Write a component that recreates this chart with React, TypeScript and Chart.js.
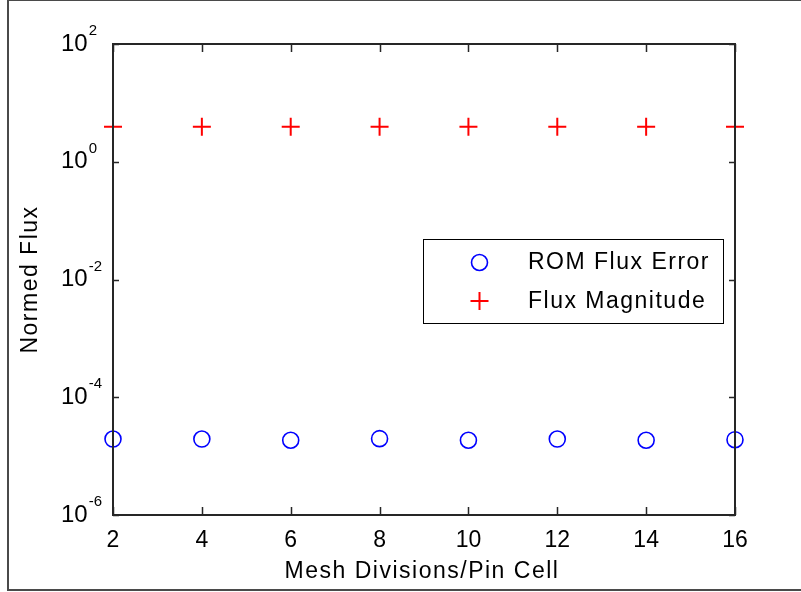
import React, { useEffect, useRef } from "react";
import { Chart, registerables } from "chart.js";

Chart.register(...registerables);

// ---- data ----
const meshDivisions = [2, 4, 6, 8, 10, 12, 14, 16];
const romFluxError = [1.95e-5, 1.95e-5, 1.86e-5, 1.98e-5, 1.86e-5, 1.95e-5, 1.86e-5, 1.9e-5];
const fluxMagnitude = [3.94, 3.94, 3.94, 3.94, 3.94, 3.94, 3.94, 3.94];
const xTickValues = [2, 4, 6, 8, 10, 12, 14, 16];
const yTickExponents = [2, 0, -2, -4, -6];
const seriesLabels = ["ROM Flux Error", "Flux Magnitude"];
const xTitle = "Mesh Divisions/Pin Cell";
const yTitle = "Normed Flux";

const FONT = '"Liberation Sans", Arial, Helvetica, sans-serif';
const BLUE = "#0000ff";
const RED = "#ff0000";
const AXIS = "#262626";

const matlabPlugin = {
  id: "matlabLook",
  afterDatasetsDraw(chart: any) {
    const { ctx, chartArea: a, scales } = chart;
    const xs = scales.x;
    const ys = scales.y;
    ctx.save();
    // axes box
    ctx.strokeStyle = AXIS;
    ctx.lineWidth = 2;
    ctx.strokeRect(a.left, a.top, a.right - a.left, a.bottom - a.top);
    // inward ticks
    ctx.lineWidth = 1.5;
    ctx.beginPath();
    for (const t of xTickValues) {
      const px = Math.round(xs.getPixelForValue(t)) + 0.5;
      ctx.moveTo(px, a.bottom);
      ctx.lineTo(px, a.bottom - 8);
      ctx.moveTo(px, a.top);
      ctx.lineTo(px, a.top + 8);
    }
    for (const e of yTickExponents) {
      const py = Math.round(ys.getPixelForValue(Math.pow(10, e))) + 0.5;
      ctx.moveTo(a.left, py);
      ctx.lineTo(a.left + 6, py);
      ctx.moveTo(a.right, py);
      ctx.lineTo(a.right - 6, py);
    }
    ctx.stroke();
    // y tick labels with superscript exponents
    ctx.fillStyle = "#000";
    for (const e of yTickExponents) {
      const py = ys.getPixelForValue(Math.pow(10, e));
      ctx.font = `24px ${FONT}`;
      ctx.textAlign = "left";
      ctx.textBaseline = "middle";
      const bx = 61;
      ctx.fillText("10", bx, py);
      const w = ctx.measureText("10").width;
      ctx.font = `15px ${FONT}`;
      ctx.textBaseline = "alphabetic";
      ctx.fillText(String(e), bx + w + 1, py - 9);
    }
    ctx.restore();
  },
  afterDraw(chart: any) {
    const { ctx, chartArea: a } = chart;
    ctx.save();
    ctx.fillStyle = "#000";
    (ctx as any).letterSpacing = "1.5px";
    ctx.font = `23px ${FONT}`;
    ctx.textAlign = "center";
    ctx.textBaseline = "middle";
    // x title
    ctx.fillText(xTitle, (a.left + a.right) / 2 - 2, 572);
    // y title
    ctx.save();
    ctx.translate(31, (a.top + a.bottom) / 2);
    ctx.rotate(-Math.PI / 2);
    ctx.fillText(yTitle, 0, 0);
    ctx.restore();

    // legend
    const lx = 423, ly = 239, lw = 300, lh = 84;
    ctx.fillStyle = "#fff";
    ctx.fillRect(lx, ly, lw, lh);
    ctx.strokeStyle = "#000";
    ctx.lineWidth = 1;
    ctx.strokeRect(lx + 0.5, ly + 0.5, lw, lh);
    const ds = chart.data.datasets;
    const rows = [262.5, 301];
    ctx.textAlign = "left";
    ctx.fillStyle = "#000";
    ds.forEach((d: any, i: number) => {
      const cy = rows[i];
      const cx = 479.5;
      ctx.strokeStyle = d.pointBorderColor;
      ctx.lineWidth = d.pointBorderWidth;
      ctx.beginPath();
      if (d.pointStyle === "circle") {
        ctx.arc(cx, cy, d.pointRadius, 0, Math.PI * 2);
      } else {
        ctx.moveTo(cx - d.pointRadius, cy);
        ctx.lineTo(cx + d.pointRadius, cy);
        ctx.moveTo(cx, cy - d.pointRadius);
        ctx.lineTo(cx, cy + d.pointRadius);
      }
      ctx.stroke();
      ctx.fillStyle = "#000";
      ctx.fillText(d.label, 528, cy + 0.5);
    });
    (ctx as any).letterSpacing = "0px";

    // outer figure frame
    ctx.fillStyle = "#4a4a4a";
    ctx.fillRect(7, 0, 2, 591);
    ctx.fillRect(7, 0, 801, 1);
    ctx.fillRect(7, 589, 801, 2);
    ctx.restore();
  },
};

export default function App() {
  const ref = useRef<HTMLCanvasElement | null>(null);
  useEffect(() => {
    if (!ref.current) return;
    const chart = new Chart(ref.current, {
      type: "scatter",
      data: {
        datasets: [
          {
            label: seriesLabels[0],
            data: meshDivisions.map((x, i) => ({ x, y: romFluxError[i] })),
            showLine: false,
            pointStyle: "circle",
            pointRadius: 8,
            pointBorderWidth: 1.6,
            pointBorderColor: BLUE,
            pointBackgroundColor: "rgba(0,0,0,0)",
            clip: false,
          } as any,
          {
            label: seriesLabels[1],
            data: meshDivisions.map((x, i) => ({ x, y: fluxMagnitude[i] })),
            showLine: false,
            pointStyle: "cross",
            pointRadius: 9,
            pointBorderWidth: 2,
            pointBorderColor: RED,
            pointBackgroundColor: RED,
            clip: false,
          } as any,
        ],
      },
      options: {
        responsive: false,
        animation: false,
        devicePixelRatio: 1,
        events: [],
        layout: { padding: { left: 113, right: 66, top: 44, bottom: 27 } },
        plugins: {
          legend: { display: false },
          tooltip: { enabled: false },
          title: { display: false },
        },
        scales: {
          x: {
            type: "linear",
            min: 2,
            max: 16,
            afterFit: (s: any) => {
              s.height = 50;
            },
            afterBuildTicks: (s: any) => {
              s.ticks = xTickValues.map((v) => ({ value: v }));
            },
            grid: { display: false },
            border: { display: false },
            ticks: {
              padding: 4,
              color: "#000",
              font: { family: FONT, size: 23, lineHeight: 1.2 },
              maxRotation: 0,
              autoSkip: false,
            },
          },
          y: {
            type: "logarithmic",
            min: 1e-6,
            max: 1e2,
            display: false,
          },
        },
      },
      plugins: [matlabPlugin],
    } as any);
    return () => chart.destroy();
  }, []);
  return (
    <div style={{ position: "fixed", left: 0, top: 0, width: 801, height: 592, background: "#fff" }}>
      <canvas ref={ref} width={801} height={592} style={{ display: "block" }} />
    </div>
  );
}
